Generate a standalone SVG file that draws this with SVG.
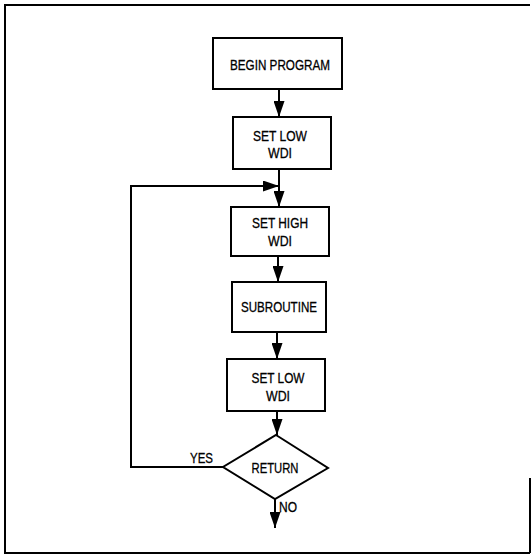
<svg xmlns="http://www.w3.org/2000/svg" width="531" height="557" viewBox="0 0 531 557">
<defs>
<marker id="ah" viewBox="0 0 16 11" refX="16" refY="5.5" markerWidth="16" markerHeight="11" markerUnits="userSpaceOnUse" orient="auto">
<path d="M0,0 L16,5.5 L0,11 Z" fill="#000"/>
</marker>
<style>
.box{fill:#fff;stroke:#000;stroke-width:2}
.ln{fill:none;stroke:#000;stroke-width:2}
.t{font-family:"Liberation Sans",Arial,sans-serif;font-size:15px;fill:#000;stroke:#000;stroke-width:0.3;text-anchor:middle}
.l{font-family:"Liberation Sans",Arial,sans-serif;font-size:15px;fill:#000;stroke:#000;stroke-width:0.3}
</style>
</defs>
<rect width="531" height="557" fill="#fff"/>
<g id="frame">
<path class="ln" d="M530,5 H5 V553 H530 M530,478 V553"/>
</g>
<g id="connectors">
<path class="ln" d="M279,89 V117" marker-end="url(#ah)"/>
<path class="ln" d="M279,169 V207" marker-end="url(#ah)"/>
<path class="ln" d="M278,256 V282" marker-end="url(#ah)"/>
<path class="ln" d="M277,332 V359" marker-end="url(#ah)"/>
<path class="ln" d="M277,411 V435" marker-end="url(#ah)"/>
<path class="ln" d="M223,467 H131 V186 H279" marker-end="url(#ah)"/>
<path class="ln" d="M275,499 V528" marker-end="url(#ah)"/>
<text class="l" x="190" y="463" textLength="23" lengthAdjust="spacingAndGlyphs">YES</text>
<text class="l" x="279" y="512" textLength="18" lengthAdjust="spacingAndGlyphs">NO</text>
</g>
<g id="begin">
<rect class="box" x="213" y="38" width="129" height="51"/>
<text class="t" x="280" y="70" textLength="100" lengthAdjust="spacingAndGlyphs">BEGIN PROGRAM</text>
</g>
<g id="setlow1">
<rect class="box" x="233" y="117" width="98" height="52"/>
<text class="t" x="280" y="141" textLength="54" lengthAdjust="spacingAndGlyphs">SET LOW</text>
<text class="t" x="280" y="158" textLength="24" lengthAdjust="spacingAndGlyphs">WDI</text>
</g>
<g id="sethigh">
<rect class="box" x="231" y="207" width="98" height="49"/>
<text class="t" x="280" y="228" textLength="56" lengthAdjust="spacingAndGlyphs">SET HIGH</text>
<text class="t" x="280" y="246" textLength="24" lengthAdjust="spacingAndGlyphs">WDI</text>
</g>
<g id="subroutine">
<rect class="box" x="232" y="282" width="94" height="50"/>
<text class="t" x="279" y="312" textLength="76" lengthAdjust="spacingAndGlyphs">SUBROUTINE</text>
</g>
<g id="setlow2">
<rect class="box" x="227" y="359" width="98" height="52"/>
<text class="t" x="278" y="383" textLength="53" lengthAdjust="spacingAndGlyphs">SET LOW</text>
<text class="t" x="278" y="401" textLength="24" lengthAdjust="spacingAndGlyphs">WDI</text>
</g>
<g id="return">
<path class="box" d="M276,435 L328,468 L275,499 L223,467 Z"/>
<text class="t" x="275" y="473" textLength="47" lengthAdjust="spacingAndGlyphs">RETURN</text>
</g>
</svg>
